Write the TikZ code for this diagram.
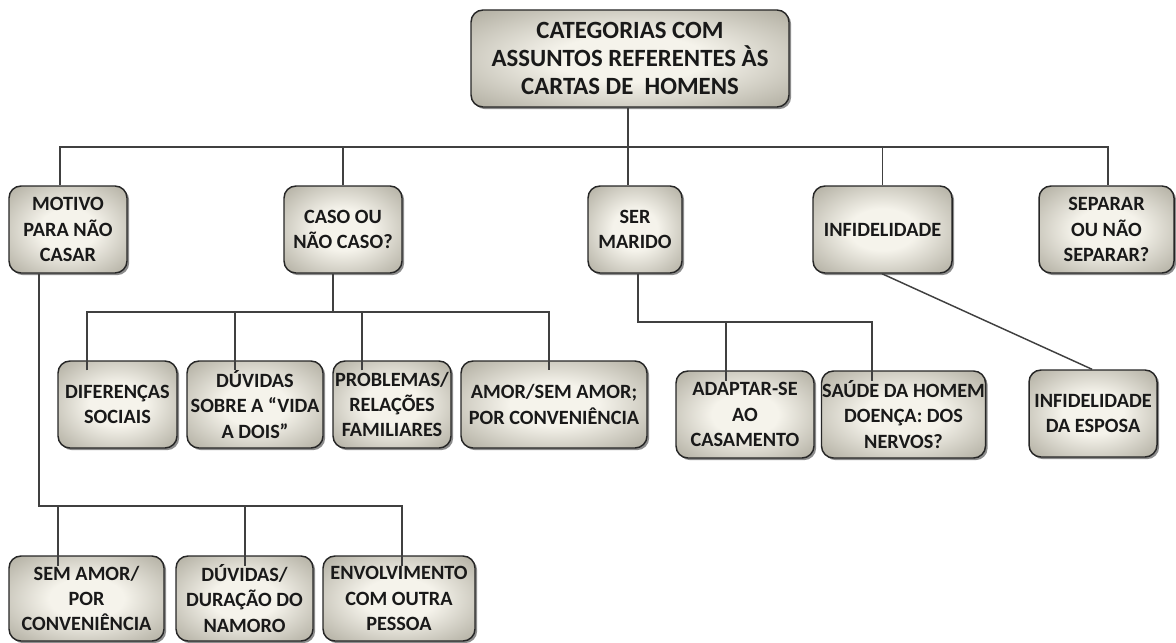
\documentclass[tikz,border=0pt]{standalone}
\usepackage{fontspec}
\setmainfont{Carlito}
\usetikzlibrary{shadows}

\definecolor{boxlight}{RGB}{245,243,235}
\definecolor{boxdark}{RGB}{134,130,114}
\definecolor{linegray}{RGB}{64,64,64}
\pgfdeclareradialshading{catshade}{\pgfpoint{0bp}{0bp}}{color(0bp)=(boxlight); color(12bp)=(boxlight); color(50bp)=(boxdark); color(60bp)=(boxdark)}

\tikzset{every picture/.style={line width=0.75pt}}
\tikzset{
	catbox/.style={draw=black!85, line width=1.1pt, rounded corners=9pt, shading=catshade, align=center, text=black!90, inner sep=0.5pt, font=\bfseries\fontsize{15.2}{19}\selectfont, drop shadow={shadow xshift=1.6pt, shadow yshift=-1.6pt, opacity=0.45, fill=black}},
	sz/.style 2 args={minimum width=#1*0.75pt, minimum height=#2*0.75pt},
	link/.style={draw=linegray, line width=1.1pt}
}

\begin{document}
\begin{tikzpicture}[x=0.75pt,y=0.75pt,yscale=-1,xscale=1]
	\useasboundingbox (0,0) rectangle (1176,642);

	%Top box
	\node [catbox, sz={318}{97}, font=\bfseries\fontsize{18.6}{21.3}\selectfont] (top) at (630,58.5) {CATEGORIAS COM\\ASSUNTOS REFERENTES ÀS\\CARTAS DE~ HOMENS};

	%First level
	\node [catbox, sz={118}{87}] (motivo) at (68,229.5) {MOTIVO\\PARA NÃO\\CASAR};
	\node [catbox, sz={118}{87}] (caso) at (343,229.5) {CASO OU\\NÃO CASO?};
	\node [catbox, sz={94}{87}] (marido) at (635,229.5) {SER\\MARIDO};
	\node [catbox, sz={139}{87}] (infid) at (882.5,229.5) {INFIDELIDADE};
	\node [catbox, sz={135}{87}] (separar) at (1106.5,229.5) {SEPARAR\\OU NÃO\\SEPARAR?};

	%Under caso
	\node [catbox, sz={119}{87}] (difer) at (117.5,404.5) {DIFERENÇAS\\SOCIAIS};
	\node [catbox, sz={136}{87}] (duvidas) at (255,404.5) {DÚVIDAS\\SOBRE A “VIDA\\A DOIS”};
	\node [catbox, sz={118}{87}] (problemas) at (392,404.5) {PROBLEMAS/\\RELAÇÕES\\FAMILIARES};
	\node [catbox, sz={186}{87}] (amor) at (554,404.5) {AMOR/SEM AMOR;\\POR CONVENIÊNCIA};

	%Under marido and infidelidade
	\node [catbox, sz={138}{87}] (adaptar) at (745,414.5) {ADAPTAR-SE\\AO\\CASAMENTO};
	\node [catbox, sz={161}{87}] (saude) at (903.5,414.5) {SAÚDE DA HOMEM\\DOENÇA: DOS\\NERVOS?};
	\node [catbox, sz={128}{87}] (esposa) at (1093,413.5) {INFIDELIDADE\\DA ESPOSA};

	%Under motivo
	\node [catbox, sz={155}{85}] (semamor) at (86.5,598.5) {SEM AMOR/\\POR\\CONVENIÊNCIA};
	\node [catbox, sz={137}{85}] (duracao) at (244.5,598.5) {DÚVIDAS/\\DURAÇÃO DO\\NAMORO};
	\node [catbox, sz={152}{85}] (outra) at (399,598.5) {ENVOLVIMENTO\\COM OUTRA\\PESSOA};

	%Junctions
	\coordinate (jtop) at (628,147);
	\coordinate (jcaso) at (333,312);
	\coordinate (jmarido) at (638,322);
	\coordinate (jmotivo) at (39,506);

	%Connectors
	\draw [link] (top.south -| jtop) -- (jtop);
	\draw [link] (motivo.north -| 60,0) |- (jtop) -| (separar.north -| 1108,0);
	\draw [link] (caso.north -| 343,0) -- (343,147);
	\draw [link] (marido.north -| jtop) -- (jtop);
	\draw [link] (infid.north) -- (infid.north |- jtop);

	\draw [link] (caso.south -| jcaso) -- (jcaso);
	\draw [link] ([yshift=7.5pt]difer.north -| 87,0) |- (jcaso) -| ([yshift=7.5pt]amor.north -| 549,0);
	\draw [link] ([yshift=7.5pt]duvidas.north -| 235,0) -- (235,312);
	\draw [link] ([yshift=7.5pt]problemas.north -| 362,0) -- (362,312);

	\draw [link] (marido.south -| jmarido) -- (jmarido) -| ([yshift=8pt]saude.north -| 872,0);
	\draw [link] ([yshift=8pt]adaptar.north -| 726,0) -- (726,322);

	\draw [link] (infid.south -| 882,0) -- (esposa.north -| 1092,0);

	\draw [link] (motivo.south -| jmotivo) -- (jmotivo) -| ([yshift=8pt]outra.north -| 402,0);
	\draw [link] ([yshift=8pt]semamor.north -| 58,0) -- (58,506);
	\draw [link] ([yshift=8pt]duracao.north -| 245,0) -- (245,506);

\end{tikzpicture}
\end{document}
